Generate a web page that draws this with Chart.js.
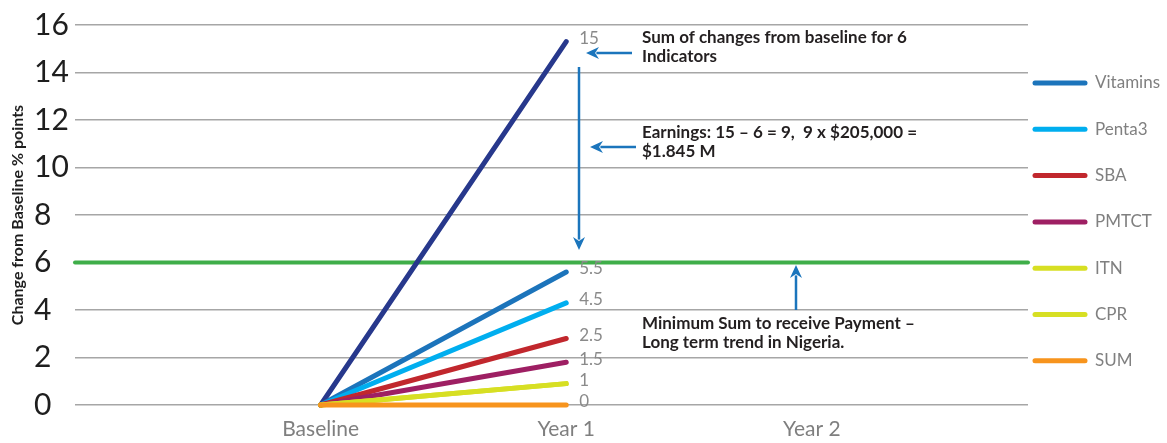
<!doctype html>
<html lang="en">
<head>
<meta charset="utf-8">
<title>Change from Baseline – 6 indicators</title>
<style>
  html,body{margin:0;padding:0;background:#fff}
  .wrap{position:relative;width:1167px;height:443px}
</style>
</head>
<body>
<div class="wrap"><canvas id="chart"></canvas></div>

<script src="https://cdn.jsdelivr.net/npm/chart.js"></script>
<script>
// periods sit at x = 0, 1, 2 on the axis
const periods   = ['Baseline', 'Year 1', 'Year 2'];
const totalSum  = [0, 15.3];
const vitamins  = [0, 5.6];
const penta3    = [0, 4.3];
const sba       = [0, 2.8];
const pmtct     = [0, 1.8];
const itn       = [0, 0.9];
const cpr       = [0, 0.9];
const sumSeries = [0, 0];
const threshold = 6;
const endLabels = ['15', '5.5', '4.5', '2.5', '1.5', '1', '', '0'];
const X_MIN = -1, X_MAX = 2.88;

const series = [
  {label:'Total',    data:totalSum,  color:'#27388c', legend:false},
  {label:'Vitamins', data:vitamins,  color:'#1c74bb', legend:true},
  {label:'Penta3',   data:penta3,    color:'#00aeef', legend:true},
  {label:'SBA',      data:sba,       color:'#c1272d', legend:true},
  {label:'PMTCT',    data:pmtct,     color:'#9e1f63', legend:true},
  {label:'ITN',      data:itn,       color:'#d7df23', legend:true},
  {label:'CPR',      data:cpr,       color:'#d7df23', legend:true},
  {label:'SUM',      data:sumSeries, color:'#f7941d', legend:true}
];

const datasets = series.map((s, i) => ({
  label: s.label,
  data: s.data.map((v, k) => ({x:k, y:v})),
  borderColor: s.color, backgroundColor: s.color,
  borderWidth: 5, borderCapStyle: 'round', pointRadius: 0, tension: 0, clip: false,
  order: series.length - i, _legend: s.legend, _end: endLabels[i]
}));
datasets.push({
  label: 'Minimum',
  data: [{x:X_MIN, y:threshold}, {x:X_MAX, y:threshold}],
  borderColor: '#3fae49', borderWidth: 4, borderCapStyle: 'round', clip: false,
  pointRadius: 0, order: 99, _legend: false, _end: ''
});

function arrow(ctx, x1, y1, x2, y2){
  const a = Math.atan2(y2 - y1, x2 - x1), L = 13, W = 6;
  ctx.beginPath(); ctx.moveTo(x1, y1);
  ctx.lineTo(x2 - Math.cos(a)*L*0.8, y2 - Math.sin(a)*L*0.8); ctx.stroke();
  ctx.beginPath(); ctx.moveTo(x2, y2);
  ctx.lineTo(x2 - Math.cos(a)*L - Math.sin(a)*W, y2 - Math.sin(a)*L + Math.cos(a)*W);
  ctx.lineTo(x2 - Math.cos(a)*L*0.7, y2 - Math.sin(a)*L*0.7);
  ctx.lineTo(x2 - Math.cos(a)*L + Math.sin(a)*W, y2 - Math.sin(a)*L - Math.cos(a)*W);
  ctx.closePath(); ctx.fill();
}

const extras = {
  id: 'extras',
  afterDraw(c){
    const {ctx} = c, ys = c.scales.y;
    ctx.save();
    // end-of-line value labels
    ctx.font = '17px Lato'; ctx.fillStyle = '#8a8a8a';
    ctx.textAlign = 'left'; ctx.textBaseline = 'middle';
    c.data.datasets.forEach((ds, i) => {
      if (!ds._end) return;
      const pts = c.getDatasetMeta(i).data, p = pts[pts.length - 1];
      ctx.fillText(ds._end, p.x + 13, p.y - 3);
    });
    // y axis title
    ctx.save();
    ctx.translate(18, (ys.top + ys.bottom) / 2);
    ctx.rotate(-Math.PI / 2);
    ctx.font = 'bold 16px Lato'; ctx.fillStyle = '#1e1e1e';
    ctx.textAlign = 'center';
    ctx.fillText('Change from Baseline % points', 0, 0);
    ctx.restore();
    // legend
    let ly = 83;
    c.data.datasets.forEach(ds => {
      if (!ds._legend) return;
      ctx.strokeStyle = ds.borderColor; ctx.lineWidth = 5; ctx.lineCap = 'round';
      ctx.beginPath(); ctx.moveTo(1035, ly); ctx.lineTo(1085, ly); ctx.stroke();
      ctx.font = '17px Lato'; ctx.fillStyle = '#808080';
      ctx.fillText(ds.label, 1095, ly);
      ly += 46.3;
    });
    // callouts
    ctx.strokeStyle = '#1b75bc'; ctx.fillStyle = '#1b75bc'; ctx.lineWidth = 2.5; ctx.lineCap = 'butt';
    arrow(ctx, 632, 53, 586, 53);
    arrow(ctx, 579, 67, 579, 250);
    arrow(ctx, 636, 147, 590, 147);
    arrow(ctx, 796, 310, 796, 265);
    ctx.font = 'bold 17px Lato'; ctx.fillStyle = '#231f20';
    ctx.fillText('Sum of changes from baseline for 6', 642, 38);
    ctx.fillText('Indicators', 642, 57);
    ctx.fillText('Earnings: 15 \u2013 6 = 9,  9 x $205,000 =', 642, 133);
    ctx.fillText('$1.845 M', 642, 152);
    ctx.fillText('Minimum Sum to receive Payment \u2013', 642, 324);
    ctx.fillText('Long term trend in Nigeria.', 642, 343);
    ctx.restore();
  }
};

new Chart(document.getElementById('chart'), {
  type: 'line',
  data: {datasets},
  options: {
    responsive: true, maintainAspectRatio: false, animation: false,
    layout: {padding: {left: 34, right: 139, top: 25, bottom: 0}},
    plugins: {legend: {display: false}, tooltip: {enabled: false}},
    scales: {
      x: {
        type: 'linear', min: X_MIN, max: X_MAX,
        afterBuildTicks: s => { s.ticks = periods.map((p, i) => ({value: i})); },
        afterFit: s => { s.height = 38; s.paddingLeft = 0; s.paddingRight = 0; },
        ticks: {callback: v => periods[v], color: '#7f7f7f', font: {family: 'Lato', size: 21}, padding: 12, maxRotation: 0},
        grid: {display: false, drawTicks: false},
        border: {display: false}
      },
      y: {
        min: 0, max: 16,
        afterFit: s => { s.width = 41; s.paddingTop = 0; s.paddingBottom = 0; },
        ticks: {stepSize: 2, crossAlign: 'far', color: '#1e1e1e', font: {family: 'Lato', size: 30}},
        grid: {color: '#a6a6a6', lineWidth: 1.5, drawTicks: false},
        border: {display: false}
      }
    }
  },
  plugins: [extras]
});
</script>
</body>
</html>
